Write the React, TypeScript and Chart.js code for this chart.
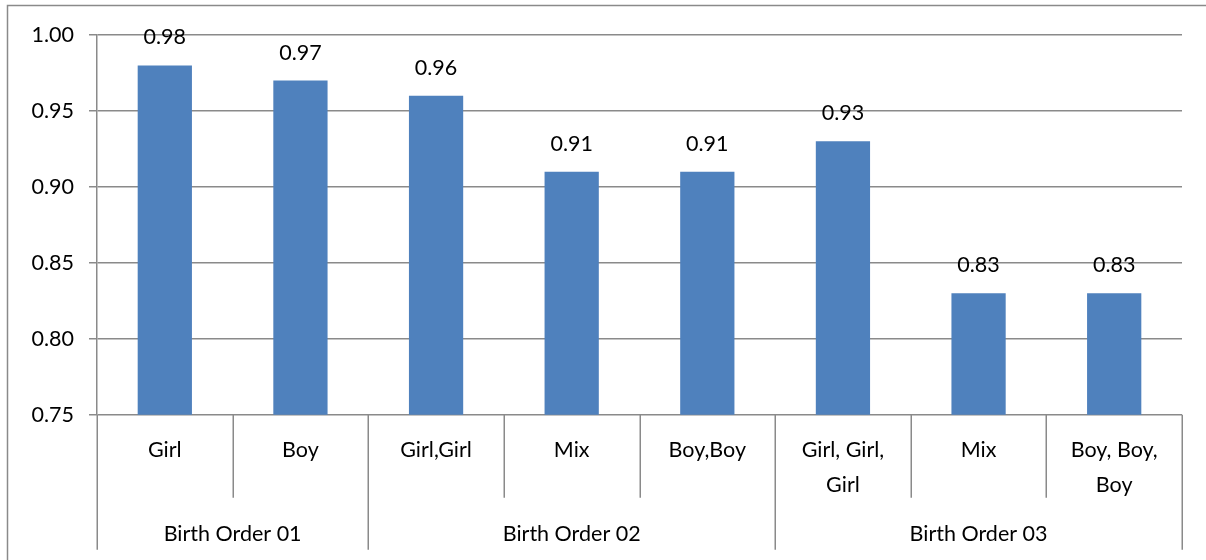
import React, { useEffect, useRef } from 'react';
import { Chart, registerables } from 'chart.js';

Chart.register(...registerables);

const subLabels: string[][] = [
  ['Girl'],
  ['Boy'],
  ['Girl,Girl'],
  ['Mix'],
  ['Boy,Boy'],
  ['Girl, Girl,', 'Girl'],
  ['Mix'],
  ['Boy, Boy,', 'Boy'],
];
const groupLabels = ['Birth Order 01', 'Birth Order 02', 'Birth Order 03'];
const groupSizes = [2, 3, 3];
const values = [0.98, 0.97, 0.96, 0.91, 0.91, 0.93, 0.83, 0.83];
const yMin = 0.75;
const yMax = 1.0;
const yStep = 0.05;

const FONT = 'Lato, "Open Sans", sans-serif';
const FSIZE = 21.5;
const GRID = '#8a8a8a';

const hierPlugin = {
  id: 'hier',
  beforeDraw(chart: any) {
    const ctx = chart.ctx;
    ctx.save();
    ctx.fillStyle = '#fff';
    ctx.fillRect(0, 0, chart.width, chart.height);
    ctx.strokeStyle = GRID;
    ctx.lineWidth = 1.5;
    ctx.strokeRect(7.5, 5.5, chart.width + 50, chart.height + 50);
    ctx.restore();
  },
  afterDraw(chart: any) {
    const ctx = chart.ctx;
    const xs = chart.scales.x;
    const area = chart.chartArea;
    const meta = chart.getDatasetMeta(0);
    ctx.save();
    ctx.font = `${FSIZE}px ${FONT}`;
    ctx.fillStyle = '#000';
    ctx.textAlign = 'center';
    ctx.textBaseline = 'middle';
    // value labels
    meta.data.forEach((bar: any, i: number) => {
      ctx.fillText(values[i].toFixed(2), bar.x, bar.y - 28);
    });
    // category separators and labels
    const n = subLabels.length;
    const w = (area.right - area.left) / n;
    const base = area.bottom;
    ctx.strokeStyle = GRID;
    ctx.lineWidth = 1.5;
    const boundaries = new Set<number>([0]);
    let acc = 0;
    groupSizes.forEach((s) => {
      acc += s;
      boundaries.add(acc);
    });
    for (let i = 0; i <= n; i++) {
      const x = Math.round(area.left + i * w) + 0.25;
      const long = boundaries.has(i);
      ctx.beginPath();
      ctx.moveTo(x, base);
      ctx.lineTo(x, long ? base + 135 : base + 83);
      ctx.stroke();
    }
    subLabels.forEach((lines, i) => {
      const cx = xs.getPixelForValue(i);
      lines.forEach((t, j) => {
        ctx.fillText(t, cx, base + 35 + j * 35);
      });
    });
    let start = 0;
    groupSizes.forEach((s, g) => {
      const cx = area.left + (start + s / 2) * w;
      ctx.fillText(groupLabels[g], cx, base + 119);
      start += s;
    });
    ctx.restore();
  },
};

export default function App() {
  const ref = useRef<HTMLCanvasElement | null>(null);
  useEffect(() => {
    if (!ref.current) return;
    const chart = new Chart(ref.current, {
      type: 'bar',
      data: {
        labels: subLabels.map((l) => l.join(' ')),
        datasets: [
          {
            data: values,
            backgroundColor: '#4F81BD',
            borderWidth: 0,
            barPercentage: 0.4,
            categoryPercentage: 1,
          },
        ],
      },
      options: {
        responsive: false,
        animation: false,
        devicePixelRatio: 1,
        layout: { padding: { left: 0, top: 35, right: 24, bottom: 145.3 } },
        plugins: { legend: { display: false }, tooltip: { enabled: false }, title: { display: false } },
        scales: {
          x: { display: false, offset: true },
          y: {
            min: yMin,
            max: yMax,
            afterFit: (s: any) => {
              s.width = 97;
            },
            ticks: {
              stepSize: yStep,
              callback: (v: any) => Number(v).toFixed(2),
              color: '#000',
              font: { family: FONT, size: FSIZE },
              padding: 15,
            },
            grid: { color: GRID, lineWidth: 1.5, tickLength: 8, drawTicks: true },
            border: { display: true, color: GRID, width: 1.5 },
          },
        },
      },
      plugins: [hierPlugin],
    });
    return () => chart.destroy();
  }, []);
  return (
    <div style={{ position: 'absolute', left: 0, top: 0, width: 1206, height: 560, background: '#fff', overflow: 'hidden' }}>
      <canvas ref={ref} width={1206} height={560} style={{ display: 'block' }} />
    </div>
  );
}
